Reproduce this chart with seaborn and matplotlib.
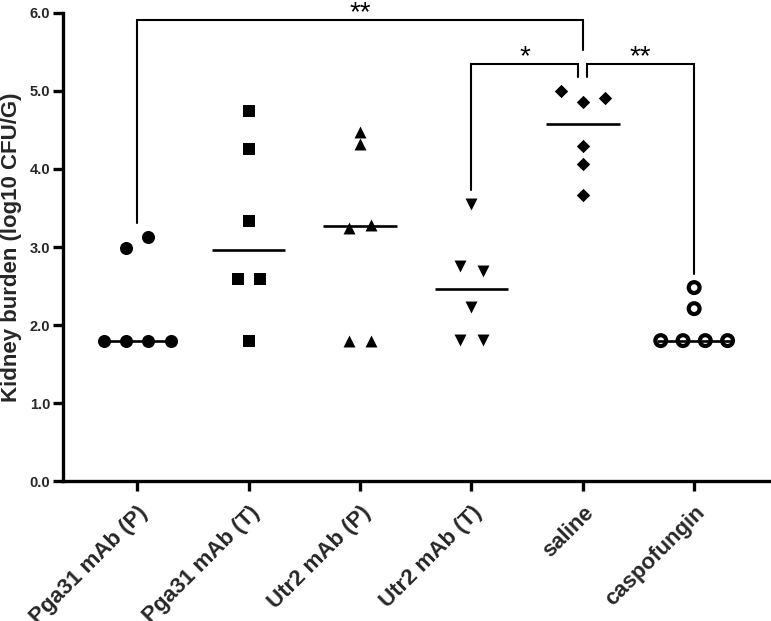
import matplotlib

matplotlib.use("Agg")
import matplotlib.pyplot as plt
import numpy as np
import pandas as pd
import seaborn as sns
from matplotlib.ticker import FormatStrFormatter

# kidney burden per mouse, log10 CFU/g (entry order kept)
GROUPS = ["Pga31 mAb (P)", "Pga31 mAb (T)", "Utr2 mAb (P)", "Utr2 mAb (T)", "saline", "caspofungin"]
PGA31_P = [1.80, 1.80, 1.80, 1.80, 2.99, 3.13]
PGA31_T = [4.74, 4.26, 3.33, 2.59, 2.59, 1.80]
UTR2_P = [4.48, 4.32, 3.25, 3.28, 1.80, 1.80]
UTR2_T = [3.55, 2.76, 2.69, 2.23, 1.81, 1.81]
SALINE = [5.00, 4.86, 4.91, 4.29, 4.06, 3.67]
CASPOFUNGIN = [2.48, 2.21, 1.80, 1.80, 1.80, 1.80]
GROUP_VALUES = [PGA31_P, PGA31_T, UTR2_P, UTR2_T, SALINE, CASPOFUNGIN]

YTICKS = [0.0, 1.0, 2.0, 3.0, 4.0, 5.0, 6.0]

# significance brackets (group a, group b, label)
COMPARISONS = [
    ("Pga31 mAb (P)", "saline", "**"),
    ("Utr2 mAb (T)", "saline", "*"),
    ("saline", "caspofungin", "**"),
]

# marker, marker size (pt), filled
MARKERS = {
    "Pga31 mAb (P)": ("o", 9.4, True),
    "Pga31 mAb (T)": ("s", 8.6, True),
    "Utr2 mAb (P)": ("^", 8.6, True),
    "Utr2 mAb (T)": ("v", 8.6, True),
    "saline": ("D", 6.8, True),
    "caspofungin": ("o", 7.8, False),
}


def spread_offsets(values, tol=0.15, step=0.2):
    # points with (nearly) equal values are laid out side by side, centred
    clusters = []
    for i, v in enumerate(values):
        for c in clusters:
            if abs(values[c[0]] - v) <= tol:
                c.append(i)
                break
        else:
            clusters.append([i])
    offsets = np.zeros(len(values))
    for c in clusters:
        n = len(c)
        for k, i in enumerate(c):
            offsets[i] = (k - (n - 1) / 2) * step
    return offsets


def draw_brackets(ax, df):
    group_max = df.groupby("group")["value"].max()
    low, high, gap = 5.34, 5.91, 0.18

    spans = {comp: abs(GROUPS.index(comp[1]) - GROUPS.index(comp[0])) for comp in COMPARISONS}
    levels = {comp: (high if spans[comp] > 1 else low) for comp in COMPARISONS}

    for comp in COMPARISONS:
        a, b, label = comp
        y = levels[comp]
        xa, xb = GROUPS.index(a), GROUPS.index(b)
        ends = []
        for g, x, side in ((a, xa, 1), (b, xb, -1)):
            # other brackets ending on the same group at the same level
            shared = [c for c in COMPARISONS if c is not comp and levels[c] == y and g in c[:2]]
            below = [levels[c] for c in COMPARISONS if levels[c] < y and g in c[:2]]
            bottom = max([group_max[g]] + below) + gap
            nudge = 0.04 * side if shared else 0.0
            ends.append((x + nudge, bottom))
        (x0, y0), (x1, y1) = ends
        ax.plot([x0, x0, x1, x1], [y0, y, y, y1], color="black", linewidth=1.5,
                solid_joinstyle="miter", clip_on=False, zorder=4)
        ax.text((x0 + x1) / 2, y, label, ha="center", va="baseline", fontsize=20,
                color="black", clip_on=False)


def main() -> None:
    sns.set_theme(style="ticks")
    plt.rcParams["font.family"] = ["Liberation Sans", "DejaVu Sans"]

    names, values, positions = [], [], []
    for idx, (name, vals) in enumerate(zip(GROUPS, GROUP_VALUES)):
        names += [name] * len(vals)
        values += list(vals)
        positions += list(idx + spread_offsets(vals))
    df = pd.DataFrame({"group": names, "value": values, "pos": positions})

    fig = plt.figure(figsize=(7.71, 6.21), dpi=100)
    ax = fig.add_axes([0.0817, 0.2254, 1 - 0.0817, 0.9791 - 0.2254])

    # median lines
    sns.boxplot(
        data=df, x="group", y="value", order=GROUPS, width=0.66, whis=0,
        showbox=False, showcaps=False, showfliers=False,
        whiskerprops={"visible": False},
        medianprops={"color": "black", "linewidth": 1.9},
        ax=ax,
    )

    for name in GROUPS:
        sub = df[df["group"] == name]
        marker, size, filled = MARKERS[name]
        if filled:
            sns.scatterplot(x=sub["pos"], y=sub["value"], marker=marker, s=size ** 2,
                            color="black", linewidth=0, ax=ax, zorder=3)
        else:
            sns.scatterplot(x=sub["pos"], y=sub["value"], marker=marker, s=size ** 2,
                            facecolor="none", edgecolor="black", linewidth=3.0,
                            ax=ax, zorder=3)

    draw_brackets(ax, df)

    ax.set_xlim(-0.667, 5.69)
    ax.set_ylim(0, 6)
    ax.set_yticks(YTICKS)
    ax.yaxis.set_major_formatter(FormatStrFormatter("%.1f"))
    ax.set_xticks(range(len(GROUPS)))
    ax.set_xticklabels(GROUPS, rotation=45, ha="right", va="top", rotation_mode="anchor",
                       fontsize=16, fontweight="bold")
    for lab in ax.get_yticklabels():
        lab.set_fontweight("bold")

    ax.set_xlabel("")
    ax.set_ylabel("Kidney burden (log10 CFU/G)", fontsize=16, fontweight="bold", labelpad=6)

    sns.despine(ax=ax)
    for side in ("left", "bottom"):
        ax.spines[side].set_linewidth(2.4)
        ax.spines[side].set_color("black")
    ax.tick_params(axis="both", width=2.4, length=7, color="black")
    ax.tick_params(axis="y", labelsize=10.5, pad=2)
    ax.tick_params(axis="x", pad=8)

    fig.savefig("out.png", dpi=100)
    plt.close(fig)


if __name__ == "__main__":
    main()
